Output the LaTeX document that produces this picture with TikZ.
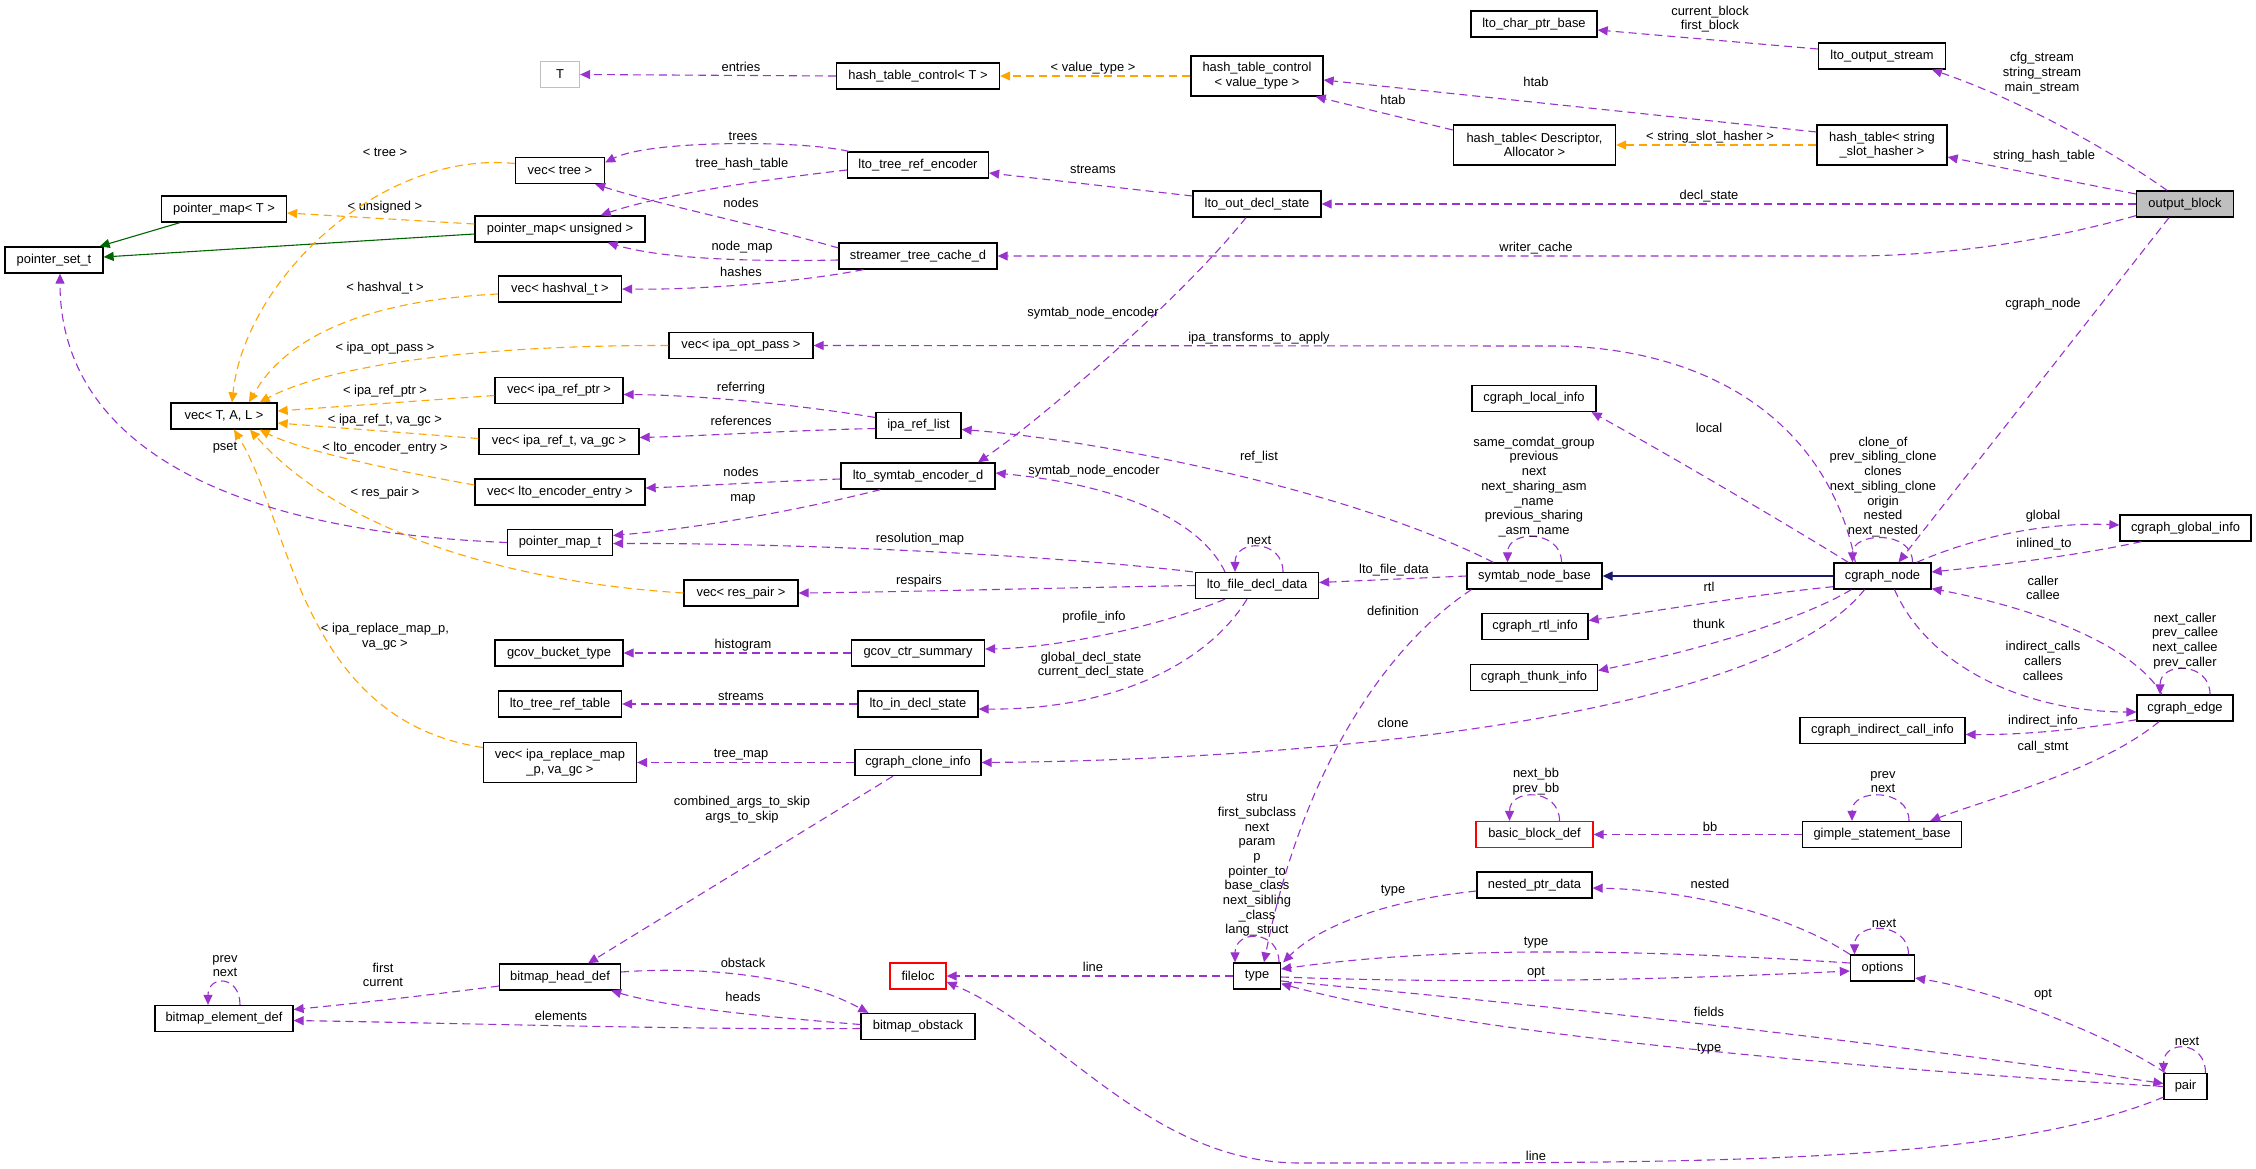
\documentclass[tikz,border=0pt]{standalone}
\usepackage{fontspec}
\setmainfont{Liberation Sans}
\usetikzlibrary{arrows.meta,calc}
\definecolor{purp}{HTML}{9A32CD}
\definecolor{orng}{HTML}{FFA500}
\definecolor{grn}{HTML}{006400}
\definecolor{nvy}{HTML}{191970}
\definecolor{gry}{HTML}{BFBFBF}
\newcommand\lbfont{\fontsize{12.9}{14.7}\selectfont}
\begin{document}
\begin{tikzpicture}[x=1pt,y=-1pt,
 box/.style={draw=black,line width=1.3pt,fill=white,minimum height=26,inner sep=0pt,align=center,font=\lbfont},
 box2/.style={box,minimum height=40},
 lab/.style={inner sep=0pt,align=center,font=\lbfont},
 pe/.style={draw=purp,line width=1.1pt,dash pattern=on 8pt off 5pt,-{Triangle[length=10pt,width=9pt]}},
 oe/.style={draw=orng,line width=1.1pt,dash pattern=on 8pt off 5pt,-{Triangle[length=10pt,width=9pt]}},
 ge/.style={draw=grn,line width=1.1pt,-{Triangle[length=10pt,width=9pt]}},
 ne/.style={draw=nvy,line width=1.3pt,-{Triangle[length=10pt,width=9pt]}}
]
\useasboundingbox (0,0) rectangle (2256,1169);
\fill[white] (0,0) rectangle (2256,1169);

% nodes
\node[box,minimum width=39,draw=gry] (T) at (560,74.5) {T};
\node[box,minimum width=163] (htcT) at (918,76) {hash\_table\_control< T >};
\node[box2,minimum width=132] (htcV) at (1257,76) {hash\_table\_control\\< value\_type >};
\node[box,minimum width=126] (lcpb) at (1534,24) {lto\_char\_ptr\_base};
\node[box,minimum width=127] (los) at (1882,56) {lto\_output\_stream};
\node[box2,minimum width=162] (htDA) at (1534.5,145) {hash\_table< Descriptor,\\Allocator >};
\node[box2,minimum width=130] (htSS) at (1882,145) {hash\_table< string\\\_slot\_hasher >};
\node[box,minimum width=97,fill=gry] (ob) at (2185,204) {output\_block};
\node[box,minimum width=128] (lode) at (1257,204) {lto\_out\_decl\_state};
\node[box,minimum width=141] (ltre) at (918,165) {lto\_tree\_ref\_encoder};
\node[box,minimum width=158] (stcd) at (918,256) {streamer\_tree\_cache\_d};
\node[box,minimum width=89] (vtree) at (560,170.5) {vec< tree >};
\node[box,minimum width=125] (pmT) at (224,209) {pointer\_map< T >};
\node[box,minimum width=170] (pmU) at (560,229) {pointer\_map< unsigned >};
\node[box,minimum width=98] (pst) at (54,260) {pointer\_set\_t};
\node[box,minimum width=123] (vhash) at (560,289) {vec< hashval\_t >};
\node[box,minimum width=144] (vopt) at (741,345.5) {vec< ipa\_opt\_pass >};
\node[box,minimum width=128] (vrefptr) at (559,390.5) {vec< ipa\_ref\_ptr >};
\node[box,minimum width=106] (vTAL) at (224,416) {vec< T, A, L >};
\node[box,minimum width=160] (vreft) at (559,441.5) {vec< ipa\_ref\_t, va\_gc >};
\node[box,minimum width=170] (venc) at (560,492) {vec< lto\_encoder\_entry >};
\node[box,minimum width=105] (pmt) at (560,542.5) {pointer\_map\_t};
\node[box,minimum width=114] (vres) at (741,593) {vec< res\_pair >};
\node[box,minimum width=128] (gbt) at (559,653) {gcov\_bucket\_type};
\node[box,minimum width=123] (ltrt) at (560,704) {lto\_tree\_ref\_table};
\node[box2,minimum width=153] (vrepl) at (560,762.5) {vec< ipa\_replace\_map\\\_p, va\_gc >};
\node[box,minimum width=85] (irl) at (918.5,425.5) {ipa\_ref\_list};
\node[box,minimum width=154] (lsed) at (918,476) {lto\_symtab\_encoder\_d};
\node[box,minimum width=123] (lfdd) at (1257,585.5) {lto\_file\_decl\_data};
\node[box,minimum width=133] (gcs) at (918,653) {gcov\_ctr\_summary};
\node[box,minimum width=120] (lids) at (918,704) {lto\_in\_decl\_state};
\node[box,minimum width=126] (cci) at (918,762.5) {cgraph\_clone\_info};
\node[box,minimum width=124] (cli) at (1534,398.5) {cgraph\_local\_info};
\node[box,minimum width=135] (snb) at (1534.5,576) {symtab\_node\_base};
\node[box,minimum width=97] (cn) at (1882.5,576) {cgraph\_node};
\node[box,minimum width=131] (cgi) at (2185.5,528) {cgraph\_global\_info};
\node[box,minimum width=106] (cri) at (1535,626.5) {cgraph\_rtl\_info};
\node[box,minimum width=127] (cti) at (1534,677.5) {cgraph\_thunk\_info};
\node[box,minimum width=96] (ce) at (2185,708) {cgraph\_edge};
\node[box,minimum width=165] (cici) at (1882.5,730.5) {cgraph\_indirect\_call\_info};
\node[box,minimum width=121] (bhd) at (560,977) {bitmap\_head\_def};
\node[box,minimum width=138] (bed) at (224,1018.5) {bitmap\_element\_def};
\node[box,minimum width=56,draw=red] (fl) at (918,976) {fileloc};
\node[box,minimum width=47] (ty) at (1257,976) {type};
\node[box,minimum width=114] (bo) at (918,1026.5) {bitmap\_obstack};
\node[box,minimum width=117,draw=red] (bbd) at (1534.5,834.5) {basic\_block\_def};
\node[box,minimum width=159] (gsb) at (1882,834.5) {gimple\_statement\_base};
\node[box,minimum width=115] (npd) at (1534.5,885) {nested\_ptr\_data};
\node[box,minimum width=64] (opt) at (1882.5,968) {options};
\node[box,minimum width=43] (pair) at (2185.5,1086.5) {pair};

% edges
\draw[pe] (htcT.west) -- (T.east);
\node[lab] (l1) at (741,67) {entries};
\draw[oe] (htcV.west) -- (htcT.east);
\node[lab] (l2) at (1093,68) {< value\_type >};
\draw[pe] ($(htSS.west)+(0,-13)$) -- ($(htcV.east)+(0,4)$);
\node[lab] (l3) at (1536,82) {htab};
\draw[pe] ($(htDA.west)+(0,-15)$) -- ($(htcV.south east)+(-8,0)$);
\node[lab] (l4) at (1393,100) {htab};
\draw[oe] (htSS.west) -- (htDA.east);
\node[lab] (l5) at (1710,137) {< string\_slot\_hasher >};
\draw[pe] ($(los.west)+(0,-7)$) -- ($(lcpb.east)+(0,6)$);
\node[lab] (l6) at (1710,19) {current\_block\\first\_block};
\draw[pe] ($(ob.north)+(-18,0)$) .. controls (2110,150) and (2020,100) .. ($(los.south)+(50,0)$);
\node[lab] (l7) at (2042,73) {cfg\_stream\\string\_stream\\main\_stream};
\draw[pe] ($(ob.west)+(0,-10)$) -- ($(htSS.east)+(0,12)$);
\node[lab] (l8) at (2044,156) {string\_hash\_table};
\draw[pe] (ob.west) -- (lode.east);
\node[lab] (l9) at (1709,196) {decl\_state};
\draw[pe] ($(ob.south west)+(0,-2)$) .. controls (2050,240) and (1950,256) .. (1850,256) -- (stcd.east);
\node[lab] (l10) at (1536,248) {writer\_cache};
\draw[pe] ($(ob.south)+(-16,0)$) -- ($(cn.north)+(16,0)$);
\node[lab] (l11) at (2043,304) {cgraph\_node};
\draw[pe] ($(lode.west)+(0,-8)$) -- ($(ltre.east)+(0,8)$);
\node[lab] (l12) at (1093,169) {streams};
\draw[pe] ($(lode.south)+(-11,0)$) .. controls (1180,300) and (1040,420) .. ($(lsed.north)+(60,0)$);
\node[lab] (l13) at (1093,313) {symtab\_node\_encoder};
\draw[pe] ($(ltre.north west)+(2,0)$) .. controls (800,140) and (650,140) .. ($(vtree.east)+(0,-8)$);
\node[lab] (l14) at (743,136) {trees};
\draw[pe] ($(ltre.west)+(0,5)$) .. controls (760,180) and (660,195) .. ($(pmU.north east)+(-45,0)$);
\node[lab] (l15) at (742,164) {tree\_hash\_table};
\draw[pe] ($(stcd.west)+(0,-8)$) .. controls (760,225) and (660,205) .. ($(vtree.south east)+(-10,0)$);
\node[lab] (l16) at (741,203) {nodes};
\draw[pe] ($(stcd.west)+(0,4)$) .. controls (740,262) and (660,258) .. ($(pmU.south east)+(-38,0)$);
\node[lab] (l17) at (742,247) {node\_map};
\draw[pe] ($(stcd.south west)+(25,0)$) .. controls (800,282) and (700,290) .. (vhash.east);
\node[lab] (l18) at (741,272) {hashes};
\draw[ge] ($(pmT.south west)+(19,0)$) -- ($(pst.north east)+(-4,0)$);
\draw[ge] ($(pmU.west)+(0,5)$) -- ($(pst.east)+(0,-3)$);
\draw[oe] ($(pmU.west)+(0,-5)$) -- ($(pmT.east)+(0,4)$);
\node[lab] (l21) at (385,207) {< unsigned >};
\draw[oe] ($(vtree.west)+(0,-7)$) .. controls (380,150) and (245,280) .. ($(vTAL.north)+(8,0)$);
\node[lab] (l22) at (385,152) {< tree >};
\draw[oe] ($(vhash.west)+(0,5)$) .. controls (380,300) and (290,330) .. ($(vTAL.north)+(25,0)$);
\node[lab] (l23) at (385,288) {< hashval\_t >};
\draw[oe] (vopt.west) .. controls (450,345) and (320,370) .. ($(vTAL.north east)+(-18,0)$);
\node[lab] (l24) at (385,348) {< ipa\_opt\_pass >};
\draw[oe] ($(vrefptr.west)+(0,5)$) -- ($(vTAL.east)+(0,-5)$);
\node[lab] (l25) at (385,391) {< ipa\_ref\_ptr >};
\draw[oe] ($(vreft.west)+(0,-3)$) -- ($(vTAL.east)+(0,7)$);
\node[lab] (l26) at (385,420) {< ipa\_ref\_t, va\_gc >};
\draw[oe] ($(venc.west)+(0,-7)$) .. controls (390,470) and (300,450) .. ($(vTAL.south east)+(-18,0)$);
\node[lab] (l27) at (385,448) {< lto\_encoder\_entry >};
\draw[oe] (vres.west) .. controls (480,580) and (330,520) .. ($(vTAL.south)+(26,0)$);
\node[lab] (l28) at (385,493) {< res\_pair >};
\draw[oe] ($(vrepl.west)+(0,-15)$) .. controls (300,720) and (290,520) .. ($(vTAL.south)+(10,0)$);
\node[lab] (l29) at (385,637) {< ipa\_replace\_map\_p,\\va\_gc >};
\draw[pe] (pmt.west) .. controls (200,530) and (60,430) .. ($(pst.south)+(6,0)$);
\node[lab] (l30) at (225,448) {pset};
\draw[pe] ($(irl.west)+(0,-8)$) .. controls (800,405) and (700,395) .. ($(vrefptr.east)+(0,4)$);
\node[lab] (l31) at (741,388) {referring};
\draw[pe] ($(irl.west)+(0,3)$) .. controls (800,430) and (700,436) .. ($(vreft.east)+(0,-4)$);
\node[lab] (l32) at (741,421) {references};
\draw[pe] ($(lsed.west)+(0,3)$) .. controls (760,482) and (700,486) .. ($(venc.east)+(0,-4)$);
\node[lab] (l33) at (741,472) {nodes};
\draw[pe] ($(lsed.south west)+(40,0)$) .. controls (800,510) and (700,528) .. ($(pmt.east)+(0,-7)$);
\node[lab] (l34) at (743,499) {map};
\draw[pe] ($(lfdd.north west)+(-2,0)$) .. controls (1050,555) and (800,543) .. ($(pmt.east)+(0,1)$);
\node[lab] (l35) at (920,539) {resolution\_map};
\draw[pe] (lfdd.west) .. controls (1050,588) and (900,592) .. (vres.east);
\node[lab] (l36) at (919,581) {respairs};
\draw[pe] ($(lfdd.north)+(-32,0)$) .. controls (1200,520) and (1120,485) .. ($(lsed.east)+(0,-3)$);
\node[lab] (l37) at (1094,471) {symtab\_node\_encoder};
\draw[pe] ($(lfdd.north)+(26,0)$) .. controls +(0,-33) and +(0,-33) .. ($(lfdd.north)+(-22,0)$);
\node[lab] (l38) at (1259,540) {next};
\draw[pe] ($(lfdd.south)+(-32,0)$) .. controls (1150,630) and (1050,648) .. ($(gcs.east)+(0,-4)$);
\node[lab] (l39) at (1094,617) {profile\_info};
\draw[pe] ($(lfdd.south)+(-10,0)$) .. controls (1210,660) and (1120,710) .. ($(lids.east)+(0,5)$);
\node[lab] (l40) at (1091,665) {global\_decl\_state\\current\_decl\_state};
\draw[pe] (gcs.west) -- (gbt.east);
\node[lab] (l41) at (743,645) {histogram};
\draw[pe] (lids.west) -- (ltrt.east);
\node[lab] (l42) at (741,696) {streams};
\draw[pe] (cci.west) -- (vrepl.east);
\node[lab] (l43) at (741,755) {tree\_map};
\draw[pe] ($(cci.south)+(-25,0)$) -- ($(bhd.north)+(28,0)$);
\node[lab] (l44) at (742,810) {combined\_args\_to\_skip\\args\_to\_skip};
\draw[pe] (snb.west) -- ($(lfdd.east)+(0,-3)$);
\node[lab] (l45) at (1394,570) {lto\_file\_data};
\draw[pe] ($(snb.north west)+(27,0)$) .. controls (1350,490) and (1100,440) .. ($(irl.east)+(0,4)$);
\node[lab] (l46) at (1259,457) {ref\_list};
\draw[pe] ($(snb.north)+(27,0)$) .. controls +(0,-33) and +(0,-33) .. ($(snb.north)+(-27,0)$);
\node[lab] (l47) at (1534,487) {same\_comdat\_group\\previous\\next\\next\_sharing\_asm\\\_name\\previous\_sharing\\\_asm\_name};
\draw[pe] ($(snb.south west)+(5,0)$) .. controls (1380,650) and (1300,780) .. ($(ty.north)+(7,0)$);
\node[lab] (l48) at (1393,611) {definition};
\draw[ne] (cn.west) -- (snb.east);
\draw[pe] ($(cn.north west)+(15,0)$) .. controls (1780,520) and (1660,450) .. ($(cli.south east)+(-5,0)$);
\node[lab] (l50) at (1709,428) {local};
\draw[pe] ($(cn.south west)+(0,-3)$) .. controls (1750,595) and (1650,612) .. ($(cri.east)+(0,-6)$);
\node[lab] (l51) at (1709,587) {rtl};
\draw[pe] ($(cn.south west)+(18,0)$) .. controls (1800,620) and (1700,650) .. ($(cti.east)+(0,-7)$);
\node[lab] (l52) at (1709,624) {thunk};
\draw[pe] ($(cn.south)+(-18,0)$) .. controls (1760,720) and (1300,760) .. (cci.east);
\node[lab] (l53) at (1393,723) {clone};
\draw[pe] ($(cn.north west)+(22,0)$) .. controls (1830,430) and (1720,350) .. (1560,346) -- (vopt.east);
\node[lab] (l54) at (1259,338) {ipa\_transforms\_to\_apply};
\draw[pe] ($(cn.north)+(30,0)$) .. controls +(0,-33) and +(0,-30) .. ($(cn.north)+(-30,0)$);
\node[lab] (lcn) at (1883,487) {clone\_of\\prev\_sibling\_clone\\clones\\next\_sibling\_clone\\origin\\nested\\next\_nested};
\draw[pe] ($(cn.north east)+(-15,0)$) .. controls (1980,535) and (2050,522) .. ($(cgi.west)+(0,-3)$);
\node[lab] (l55) at (2043,516) {global};
\draw[pe] ($(cgi.south west)+(22,0)$) .. controls (2080,555) and (2000,565) .. ($(cn.east)+(0,-4)$);
\node[lab] (l56) at (2044,544) {inlined\_to};
\draw[pe] ($(ce.north)+(-23,0)$) .. controls (2130,640) and (2020,605) .. ($(cn.south east)+(0,-1)$);
\node[lab] (l57) at (2043,588) {caller\\callee};
\draw[pe] ($(cn.south)+(12,0)$) .. controls (1930,670) and (2030,712) .. ($(ce.west)+(0,4)$);
\node[lab] (l58) at (2043,661) {indirect\_calls\\callers\\callees};
\draw[pe] ($(ce.north)+(25,0)$) .. controls +(0,-33) and +(0,-33) .. ($(ce.north)+(-25,0)$);
\node[lab] (l59) at (2185,641) {next\_caller\\prev\_callee\\next\_callee\\prev\_caller};
\draw[pe] ($(ce.south west)+(0,-2)$) .. controls (2080,730) and (2020,735) .. ($(cici.east)+(0,4)$);
\node[lab] (l60) at (2043,721) {indirect\_info};
\draw[pe] ($(ce.south)+(-26,0)$) .. controls (2100,770) and (2000,795) .. ($(gsb.north east)+(-32,0)$);
\node[lab] (l61) at (2043,747) {call\_stmt};
\draw[pe] ($(gsb.north)+(27,0)$) .. controls +(0,-33) and +(0,-33) .. ($(gsb.north)+(-30,0)$);
\node[lab] (l62) at (1883,782) {prev\\next};
\draw[pe] (gsb.west) -- (bbd.east);
\node[lab] (l63) at (1710,827) {bb};
\draw[pe] ($(bbd.north)+(25,0)$) .. controls +(0,-33) and +(0,-33) .. ($(bbd.north)+(-25,0)$);
\node[lab] (l64) at (1536,782) {next\_bb\\prev\_bb};
\draw[pe] ($(npd.west)+(0,6)$) .. controls (1390,900) and (1320,925) .. ($(ty.north east)+(2,0)$);
\node[lab] (l65) at (1393,891) {type};
\draw[pe] (opt.north west) .. controls (1790,915) and (1690,890) .. ($(npd.east)+(0,3)$);
\node[lab] (l66) at (1710,884) {nested};
\draw[pe] ($(opt.north)+(26,0)$) .. controls +(0,-33) and +(0,-33) .. ($(opt.north)+(-28,0)$);
\node[lab] (l67) at (1884,923) {next};
\draw[pe] ($(opt.west)+(0,-5)$) .. controls (1650,950) and (1450,945) .. ($(ty.east)+(0,-7)$);
\node[lab] (l68) at (1536,943) {type};
\draw[pe] ($(ty.east)+(0,1)$) .. controls (1500,985) and (1700,978) .. ($(opt.west)+(0,3)$);
\node[lab] (l69) at (1536,973) {opt};
\draw[pe] ($(ty.east)+(0,5)$) .. controls (1600,1010) and (1900,1045) .. ($(pair.west)+(0,-3)$);
\node[lab] (l70) at (1709,1012) {fields};
\draw[pe] (pair.west) .. controls (1800,1065) and (1450,1030) .. ($(ty.south east)+(0,-6)$);
\node[lab] (l71) at (1709,1049) {type};
\draw[pe] ($(pair.north)+(-20,0)$) .. controls (2100,1030) and (1990,990) .. ($(opt.east)+(0,10)$);
\node[lab] (l72) at (2043,995) {opt};
\draw[pe] ($(pair.north)+(20,0)$) .. controls +(0,-33) and +(0,-33) .. ($(pair.north)+(-22,0)$);
\node[lab] (l73) at (2187,1041) {next};
\draw[pe] ($(pair.south west)+(0,-3)$) .. controls (2000,1165) and (1700,1163) .. (1300,1163) .. controls (1150,1163) and (1060,1030) .. ($(fl.east)+(0,6)$);
\node[lab] (l74) at (1536,1156) {line};
\draw[pe] (ty.west) -- (fl.east);
\node[lab] (l75) at (1093,967) {line};
\draw[pe] ($(ty.north)+(22,0)$) .. controls +(0,-33) and +(0,-33) .. ($(ty.north)+(-22,0)$);
\node[lab] (l76) at (1257,865) {stru\\first\_subclass\\next\\param\\p\\pointer\_to\\base\_class\\next\_sibling\\\_class\\lang\_struct};
\draw[pe] ($(bhd.west)+(0,9)$) .. controls (430,995) and (360,1003) .. ($(bed.east)+(0,-9)$);
\node[lab] (l77) at (383,975) {first\\current};
\draw[pe] ($(bed.north)+(16,0)$) .. controls +(0,-30) and +(0,-30) .. ($(bed.north)+(-16,0)$);
\node[lab] (l78) at (225,966) {prev\\next};
\draw[pe] ($(bhd.east)+(0,-5)$) .. controls (700,966) and (800,975) .. ($(bo.north west)+(8,0)$);
\node[lab] (l79) at (743,963) {obstack};
\draw[pe] ($(bo.west)+(0,-2)$) .. controls (740,1015) and (660,1005) .. ($(bhd.south east)+(-10,0)$);
\node[lab] (l80) at (743,997) {heads};
\draw[pe] ($(bo.west)+(0,2)$) .. controls (700,1030) and (450,1023) .. ($(bed.east)+(0,2)$);
\node[lab] (l81) at (561,1016) {elements};
\end{tikzpicture}
\end{document}
